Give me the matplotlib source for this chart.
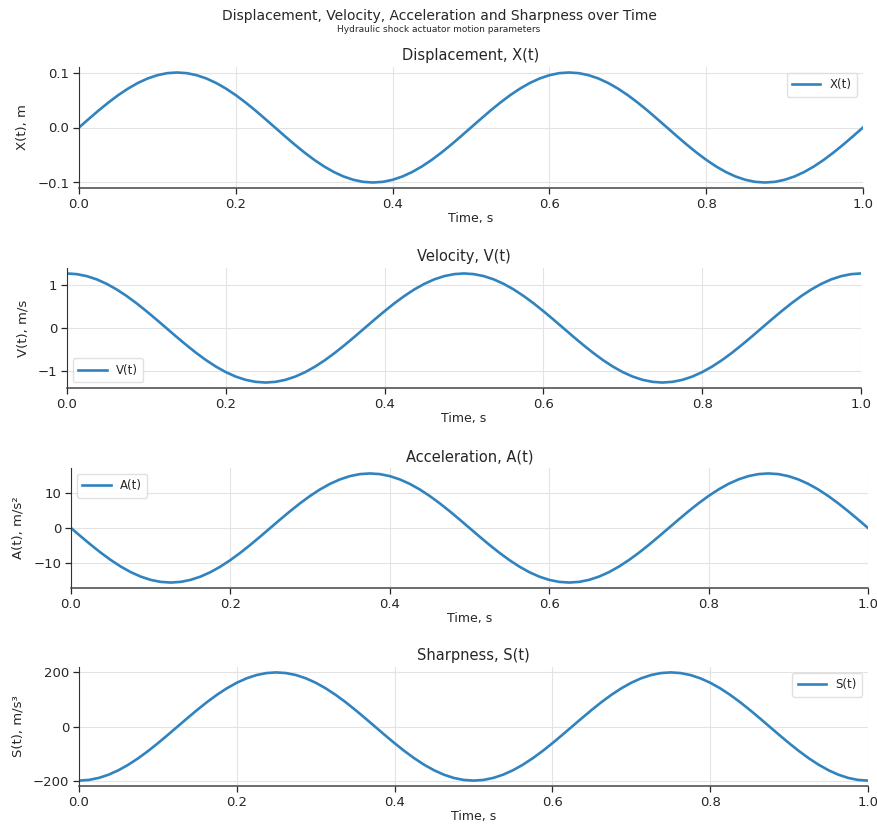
import matplotlib
matplotlib.use("Agg")
import matplotlib.pyplot as plt

# ---- data ----
time_s = [0.0, 0.0125, 0.025, 0.0375, 0.05, 0.0625, 0.075, 0.0875, 0.1, 0.1125,
          0.125, 0.1375, 0.15, 0.1625, 0.175, 0.1875, 0.2, 0.2125, 0.225, 0.2375,
          0.25, 0.2625, 0.275, 0.2875, 0.3, 0.3125, 0.325, 0.3375, 0.35, 0.3625,
          0.375, 0.3875, 0.4, 0.4125, 0.425, 0.4375, 0.45, 0.4625, 0.475, 0.4875,
          0.5, 0.5125, 0.525, 0.5375, 0.55, 0.5625, 0.575, 0.5875, 0.6, 0.6125,
          0.625, 0.6375, 0.65, 0.6625, 0.675, 0.6875, 0.7, 0.7125, 0.725, 0.7375,
          0.75, 0.7625, 0.775, 0.7875, 0.8, 0.8125, 0.825, 0.8375, 0.85, 0.8625,
          0.875, 0.8875, 0.9, 0.9125, 0.925, 0.9375, 0.95, 0.9625, 0.975, 0.9875,
          1.0]

displacement = [0.0, 0.0156, 0.0309, 0.0454, 0.0588, 0.0707, 0.0809, 0.0891, 0.0951, 0.0988,
                0.1, 0.0988, 0.0951, 0.0891, 0.0809, 0.0707, 0.0588, 0.0454, 0.0309, 0.0156,
                0.0, -0.0156, -0.0309, -0.0454, -0.0588, -0.0707, -0.0809, -0.0891, -0.0951, -0.0988,
                -0.1, -0.0988, -0.0951, -0.0891, -0.0809, -0.0707, -0.0588, -0.0454, -0.0309, -0.0156,
                0.0, 0.0156, 0.0309, 0.0454, 0.0588, 0.0707, 0.0809, 0.0891, 0.0951, 0.0988,
                0.1, 0.0988, 0.0951, 0.0891, 0.0809, 0.0707, 0.0588, 0.0454, 0.0309, 0.0156,
                0.0, -0.0156, -0.0309, -0.0454, -0.0588, -0.0707, -0.0809, -0.0891, -0.0951, -0.0988,
                -0.1, -0.0988, -0.0951, -0.0891, -0.0809, -0.0707, -0.0588, -0.0454, -0.0309, -0.0156,
                0.0]

velocity = [1.257, 1.241, 1.195, 1.120, 1.017, 0.889, 0.739, 0.571, 0.388, 0.197,
            0.0, -0.197, -0.388, -0.571, -0.739, -0.889, -1.017, -1.120, -1.195, -1.241,
            -1.257, -1.241, -1.195, -1.120, -1.017, -0.889, -0.739, -0.571, -0.388, -0.197,
            0.0, 0.197, 0.388, 0.571, 0.739, 0.889, 1.017, 1.120, 1.195, 1.241,
            1.257, 1.241, 1.195, 1.120, 1.017, 0.889, 0.739, 0.571, 0.388, 0.197,
            0.0, -0.197, -0.388, -0.571, -0.739, -0.889, -1.017, -1.120, -1.195, -1.241,
            -1.257, -1.241, -1.195, -1.120, -1.017, -0.889, -0.739, -0.571, -0.388, -0.197,
            0.0, 0.197, 0.388, 0.571, 0.739, 0.889, 1.017, 1.120, 1.195, 1.241,
            1.257]

acceleration = [0.0, -2.47, -4.88, -7.17, -9.28, -11.17, -12.78, -14.07, -15.02, -15.60,
                -15.79, -15.60, -15.02, -14.07, -12.78, -11.17, -9.28, -7.17, -4.88, -2.47,
                0.0, 2.47, 4.88, 7.17, 9.28, 11.17, 12.78, 14.07, 15.02, 15.60,
                15.79, 15.60, 15.02, 14.07, 12.78, 11.17, 9.28, 7.17, 4.88, 2.47,
                0.0, -2.47, -4.88, -7.17, -9.28, -11.17, -12.78, -14.07, -15.02, -15.60,
                -15.79, -15.60, -15.02, -14.07, -12.78, -11.17, -9.28, -7.17, -4.88, -2.47,
                0.0, 2.47, 4.88, 7.17, 9.28, 11.17, 12.78, 14.07, 15.02, 15.60,
                15.79, 15.60, 15.02, 14.07, 12.78, 11.17, 9.28, 7.17, 4.88, 2.47,
                0.0]

sharpness = [-198.4, -196.0, -188.7, -176.8, -160.5, -140.3, -116.6, -90.1, -61.3, -31.0,
             0.0, 31.0, 61.3, 90.1, 116.6, 140.3, 160.5, 176.8, 188.7, 196.0,
             198.4, 196.0, 188.7, 176.8, 160.5, 140.3, 116.6, 90.1, 61.3, 31.0,
             0.0, -31.0, -61.3, -90.1, -116.6, -140.3, -160.5, -176.8, -188.7, -196.0,
             -198.4, -196.0, -188.7, -176.8, -160.5, -140.3, -116.6, -90.1, -61.3, -31.0,
             0.0, 31.0, 61.3, 90.1, 116.6, 140.3, 160.5, 176.8, 188.7, 196.0,
             198.4, 196.0, 188.7, 176.8, 160.5, 140.3, 116.6, 90.1, 61.3, 31.0,
             0.0, -31.0, -61.3, -90.1, -116.6, -140.3, -160.5, -176.8, -188.7, -196.0,
             -198.4]

titles = ["Displacement, X(t)", "Velocity, V(t)", "Acceleration, A(t)", "Sharpness, S(t)"]
ylabels = ["X(t), m", "V(t), m/s", "A(t), m/s²", "S(t), m/s³"]
legend_labels = ["X(t)", "V(t)", "A(t)", "S(t)"]
series = [displacement, velocity, acceleration, sharpness]
yticks = [[-0.1, 0.0, 0.1], [-1, 0, 1], [-10, 0, 10], [-200, 0, 200]]
xticks = [0.0, 0.2, 0.4, 0.6, 0.8, 1.0]

suptitle = "Displacement, Velocity, Acceleration and Sharpness over Time"
subtitle = "Hydraulic shock actuator motion parameters"

# ---- layout / style ----
W, H = 878, 825
plt.rcParams["font.family"] = ["DejaVu Sans"]
plt.rcParams["text.color"] = "#262626"
plt.rcParams["axes.labelcolor"] = "#262626"
plt.rcParams["xtick.color"] = "#262626"
plt.rcParams["ytick.color"] = "#262626"

fig = plt.figure(figsize=(W / 100, H / 100), dpi=100)

# pixel boxes (left, right, top, bottom)
boxes = [(79, 863, 67, 188), (67, 861, 268, 388), (71, 868, 468, 588), (79, 868, 667, 786)]
legend_locs = ["upper right", "lower left", "upper left", "upper right"]
line_color = "#3083bf"

for i in range(4):
    l, r, t, b = boxes[i]
    ax = fig.add_axes([l / W, 1 - b / H, (r - l) / W, (b - t) / H])
    ax.plot(time_s, series[i], color=line_color, lw=1.9, label=legend_labels[i])
    ax.set_xlim(0, 1.0)
    ax.set_xticks(xticks)
    ax.set_yticks(yticks[i])
    if i == 0:
        ax.set_yticklabels(["\u22120.1", "0.0", "0.1"])
    ax.set_title(titles[i], fontsize=10.5, pad=5)
    ax.set_xlabel("Time, s", fontsize=9, labelpad=1)
    ax.set_ylabel(ylabels[i], fontsize=9.5, labelpad=6)
    ax.tick_params(labelsize=9.5, length=4, width=0.9, pad=3)
    ax.grid(True, color="#e3e3e3", lw=0.8)
    ax.set_axisbelow(True)
    for s in ["top", "right"]:
        ax.spines[s].set_visible(False)
    ax.spines["left"].set_color("#333333")
    ax.spines["bottom"].set_color("#444444")
    ax.spines["bottom"].set_linewidth(1.1)
    ax.legend(loc=legend_locs[i], fontsize=8.5, frameon=True, handlelength=2.4,
              borderpad=0.45, framealpha=0.9, edgecolor="#dddddd", fancybox=True)

fig.text(0.5, 1 - 16 / H, suptitle, ha="center", va="center", fontsize=10)
fig.text(0.5, 1 - 29 / H, subtitle, ha="center", va="center", fontsize=6.5)

fig.savefig("out.png", dpi=100)
